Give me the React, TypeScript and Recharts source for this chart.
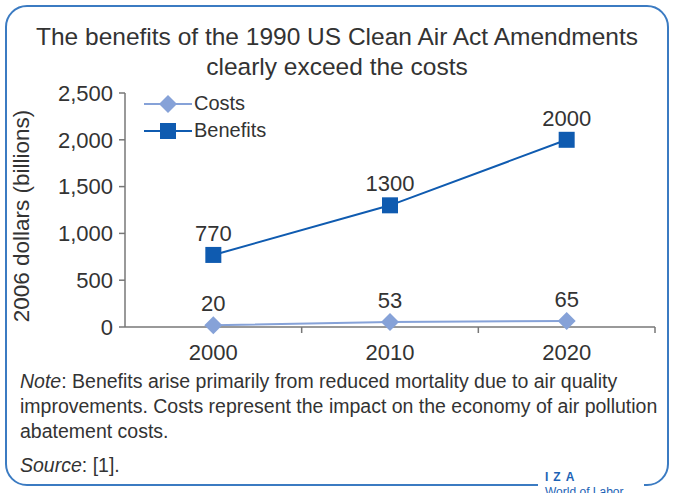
import React from 'react';
import { LineChart, Line, XAxis, YAxis, Legend, LabelList } from 'recharts';

const years = [2000, 2010, 2020];
const costs = [20, 53, 65];
const benefits = [770, 1300, 2000];
const yTicks = [0, 500, 1000, 1500, 2000, 2500];
const xTicks = [2000, 2005, 2010, 2015, 2020, 2025];

const BENEFITS_COLOR = '#0f5bb0';
const COSTS_COLOR = '#86a2d8';
const TEXT = '#333333';
const FONT = "'Liberation Sans', Arial, sans-serif";

const data = years.map((year, i) => ({ year, costs: costs[i], benefits: benefits[i] }));

const Square = (props: any) => {
  const { cx, cy, index } = props;
  if (cx == null || cy == null) return <g key={index} />;
  return <rect key={index} x={cx - 8} y={cy - 8} width={16} height={16} fill={BENEFITS_COLOR} />;
};

const Diamond = (props: any) => {
  const { cx, cy, index } = props;
  if (cx == null || cy == null) return <g key={index} />;
  return (
    <path
      key={index}
      d={`M${cx},${cy - 9} L${cx + 9},${cy} L${cx},${cy + 9} L${cx - 9},${cy} Z`}
      fill={COSTS_COLOR}
    />
  );
};

// labels only on the decade ticks, small marks at the band edges
const XTick = (props: any) => {
  const { x, y, payload } = props;
  if (payload.value % 10 !== 0) {
    return <line x1={x} x2={x} y1={y} y2={y + 6} stroke="#777" strokeWidth={1.5} />;
  }
  return (
    <text x={x} y={y + 33} textAnchor="middle" fontSize={22} fill={TEXT} fontFamily={FONT}>
      {payload.value}
    </text>
  );
};

const LegendContent = () => {
  const items = [
    { name: 'Costs', color: COSTS_COLOR, shape: 'diamond' },
    { name: 'Benefits', color: BENEFITS_COLOR, shape: 'square' }
  ];
  return (
    <div style={{ fontFamily: FONT, fontSize: 20, color: TEXT }}>
      {items.map((item) => (
        <div key={item.name} style={{ display: 'flex', alignItems: 'center', height: 27 }}>
          <svg width={48} height={20} style={{ marginRight: 2 }}>
            <line x1={0} x2={48} y1={10} y2={10} stroke={item.color} strokeWidth={2} />
            {item.shape === 'square' ? (
              <rect x={16} y={2} width={16} height={16} fill={item.color} />
            ) : (
              <path d="M24,1 L33,10 L24,19 L15,10 Z" fill={item.color} />
            )}
          </svg>
          <span>{item.name}</span>
        </div>
      ))}
    </div>
  );
};

export default function App() {
  return (
    <div
      style={{
        position: 'absolute',
        left: 0,
        top: 0,
        width: 674,
        height: 493,
        overflow: 'hidden',
        background: '#fff',
        fontFamily: FONT,
        color: TEXT
      }}
    >
      <div
        style={{
          position: 'absolute',
          left: 5,
          top: 5,
          width: 660,
          height: 477,
          border: '2px solid #3b7bc2',
          borderRadius: 22
        }}
      />
      {/* gap in the frame for the IZA mark */}
      <div style={{ position: 'absolute', left: 538, top: 478, width: 106, height: 15, background: '#fff' }} />
      <div
        style={{
          position: 'absolute',
          left: 545,
          top: 470,
          fontSize: 12,
          fontWeight: 'bold',
          color: '#1d63b5',
          letterSpacing: 5
        }}
      >
        IZA
      </div>
      <div style={{ position: 'absolute', left: 545, top: 485, fontSize: 12, color: '#1d63b5' }}>
        World of Labor
      </div>

      <div
        style={{
          position: 'absolute',
          left: 0,
          top: 22,
          width: 674,
          textAlign: 'center',
          fontSize: 24.5,
          lineHeight: '30px'
        }}
      >
        The benefits of the 1990 US Clean Air Act Amendments
        <br />
        clearly exceed the costs
      </div>

      <div
        style={{
          position: 'absolute',
          left: 22,
          top: 216,
          transform: 'translate(-50%, -50%) rotate(-90deg)',
          whiteSpace: 'nowrap',
          fontSize: 22.5
        }}
      >
        2006 dollars (billions)
      </div>

      <div style={{ position: 'absolute', left: 0, top: 0 }}>
        <LineChart width={674} height={493} data={data} margin={{ top: 93, right: 19, bottom: 136, left: 0 }}>
          <XAxis
            dataKey="year"
            type="number"
            domain={[1995, 2025]}
            ticks={xTicks}
            interval={0}
            tick={<XTick />}
            tickLine={false}
            tickSize={0}
            tickMargin={0}
            height={30}
            axisLine={{ stroke: '#777', strokeWidth: 1.5 }}
          />
          <YAxis
            type="number"
            domain={[0, 2500]}
            ticks={yTicks}
            width={125}
            tickSize={6}
            tickMargin={6}
            tickFormatter={(v: number) => v.toLocaleString('en-US')}
            tick={{ fontSize: 22, fill: TEXT, fontFamily: FONT }}
            axisLine={{ stroke: '#777', strokeWidth: 1.5 }}
            tickLine={{ stroke: '#777', strokeWidth: 1.5 }}
          />
          <Legend
            layout="vertical"
            verticalAlign="middle"
            align="center"
            content={<LegendContent />}
            wrapperStyle={{ left: 144, top: 90, width: 200 }}
          />
          <Line
            dataKey="costs"
            name="Costs"
            stroke={COSTS_COLOR}
            strokeWidth={2}
            dot={Diamond}
            activeDot={false}
            isAnimationActive={false}
          >
            <LabelList dataKey="costs" position="top" offset={14} fontSize={22} fill={TEXT} fontFamily={FONT} />
          </Line>
          <Line
            dataKey="benefits"
            name="Benefits"
            stroke={BENEFITS_COLOR}
            strokeWidth={2}
            dot={Square}
            activeDot={false}
            isAnimationActive={false}
          >
            <LabelList dataKey="benefits" position="top" offset={14} fontSize={22} fill={TEXT} fontFamily={FONT} />
          </Line>
        </LineChart>
      </div>

      <div
        style={{
          position: 'absolute',
          left: 20,
          top: 369,
          width: 660,
          fontSize: 19.5,
          lineHeight: '25px',
          whiteSpace: 'nowrap'
        }}
      >
        <i>Note</i>: Benefits arise primarily from reduced mortality due to air quality
        <br />
        improvements. Costs represent the impact on the economy of air pollution
        <br />
        abatement costs.
      </div>
      <div style={{ position: 'absolute', left: 20, top: 453, fontSize: 19.5, lineHeight: '25px' }}>
        <i>Source</i>: [1].
      </div>
    </div>
  );
}
